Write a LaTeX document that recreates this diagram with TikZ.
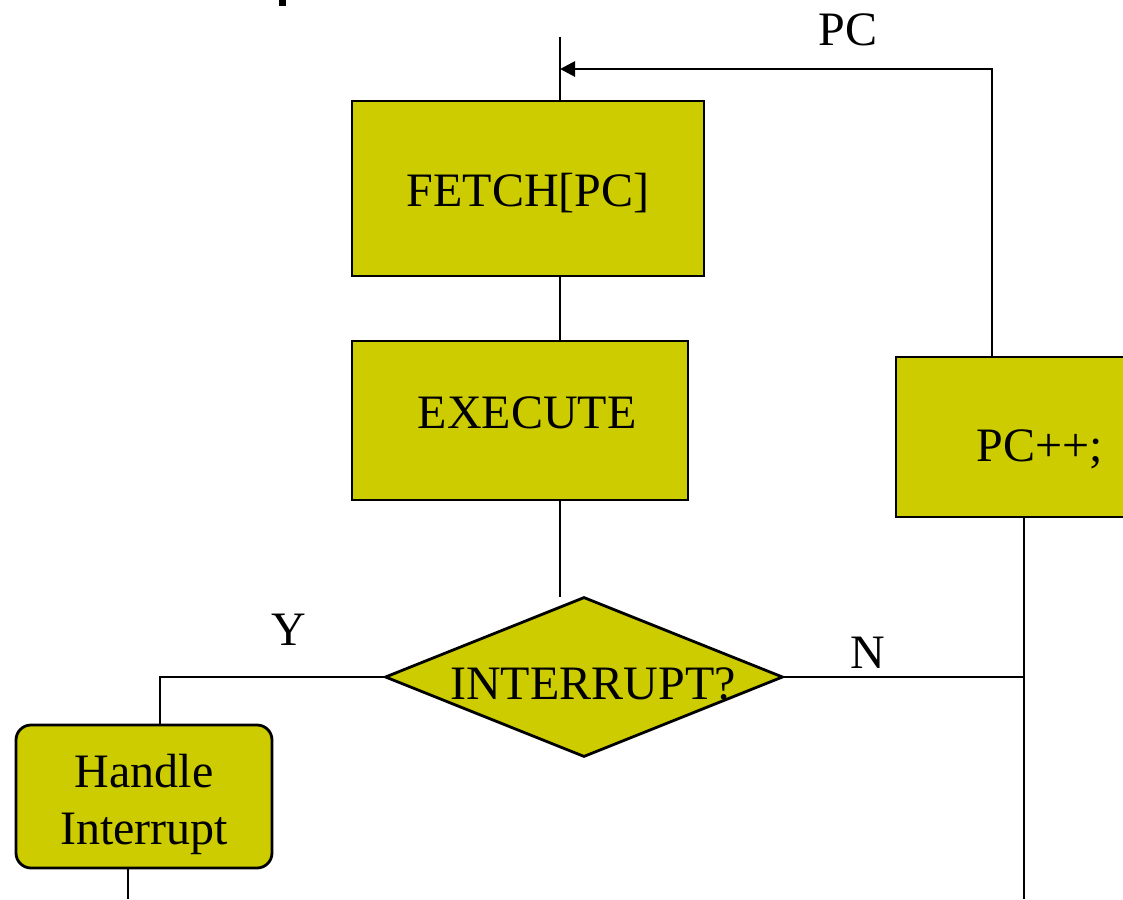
\documentclass[tikz,border=0pt]{standalone}
\usepackage{fontspec}
\setmainfont{Liberation Serif}
\usetikzlibrary{shapes.geometric,arrows.meta}
\definecolor{boxfill}{HTML}{CCCC00}
\newcommand{\shiftedtext}[2]{\raisebox{#1}[0pt][0pt]{#2}}
\begin{document}
\begin{tikzpicture}[x=1pt,y=-1pt,line width=2.8pt,
  box/.style={draw, fill=boxfill, line width=2.8pt, inner sep=0pt, font=\fontsize{48}{57}\selectfont},
  lbl/.style={inner sep=0pt, font=\fontsize{48}{57}\selectfont}]
\useasboundingbox (0,0) rectangle (1123,899);
\clip (0,0) rectangle (1123,899);
\fill (279,0) rectangle (286,6);
\node[box, minimum width=352, minimum height=175] (fetch) at (528,188.5) {\shiftedtext{-17.5pt}{FETCH[PC]}};
\node[box, minimum width=336, minimum height=159] (exec) at (520,420.5) {\shiftedtext{-7.5pt}{\hspace*{14pt}EXECUTE}};
\node[box, minimum width=288, minimum height=160] (pcinc) at (1040,437) {\shiftedtext{-24pt}{PC++;}};
\node[box, shape=diamond, minimum width=398, minimum height=160] (intr) at (584,677) {\makebox[0pt]{\shiftedtext{-22pt}{\hspace*{18pt}INTERRUPT?}}};
\node[box, rounded corners=15pt, minimum width=256, minimum height=143] (handle) at (144,796.5) {\shiftedtext{-14.5pt}{\begin{tabular}{@{}c@{}}Handle\\Interrupt\end{tabular}}};
\coordinate (top) at (560,37);
\coordinate (pcturn) at (992,69);
\coordinate (nturn) at (1024,677);
\coordinate (yturn) at (160,677);
\coordinate (bottomR) at (1024,899);
\coordinate (bottomL) at (128,899);
\coordinate (execout) at (560,597);
\draw (top) -- (top |- fetch.north);
\draw (fetch.south -| top) -- (exec.north -| top);
\draw (exec.south -| top) -- (execout);
\draw[-{Triangle[length=15pt,width=15pt]}] (pcturn |- pcinc.north) -- (pcturn) -- (pcturn -| top);
\draw (intr.east) -- (nturn);
\draw (intr.west) -- (yturn) -- (yturn |- handle.north);
\draw (pcinc.south -| nturn) -- (bottomR);
\draw (handle.south -| bottomL) -- (bottomL);
\node[lbl] (pclbl) at (848,30) {PC};
\node[lbl] (ylbl) at (289,630) {Y};
\node[lbl] (nlbl) at (868,653) {N};
\end{tikzpicture}
\end{document}
